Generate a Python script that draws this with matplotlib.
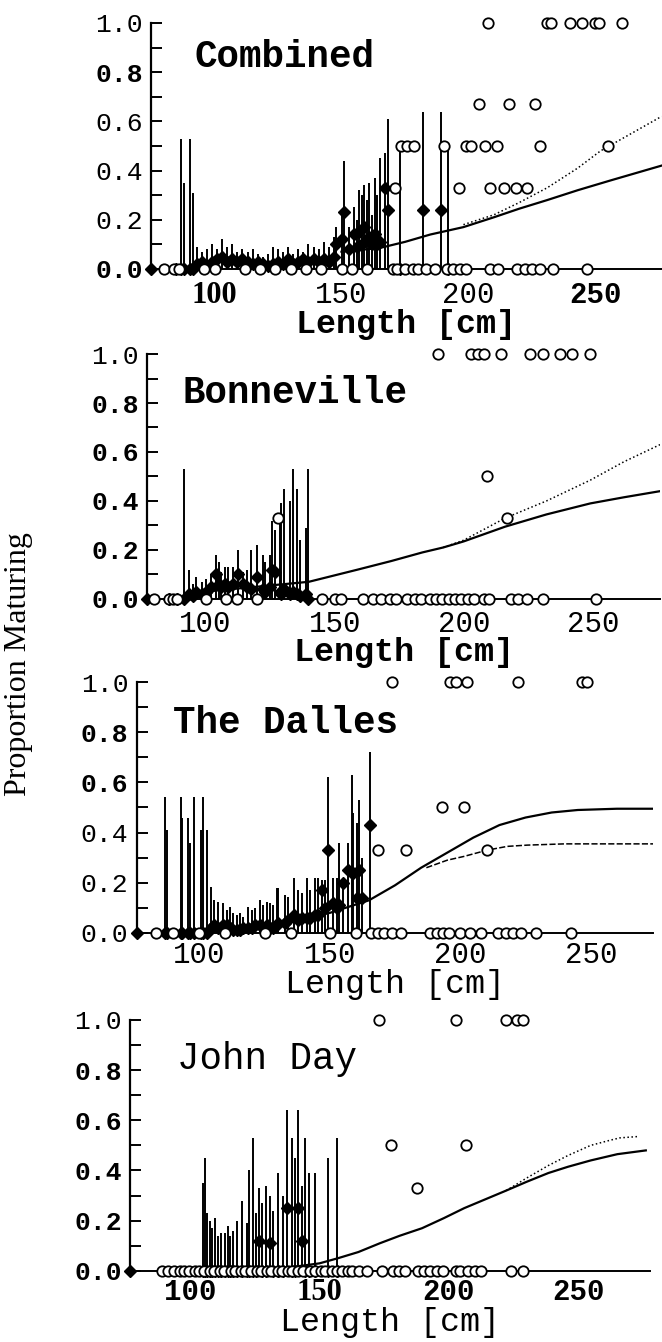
import matplotlib
matplotlib.use("Agg")
import matplotlib.pyplot as plt

# ---------------- Combined ----------------
comb_bar_x = [75, 85, 87, 88, 90.5, 91.5, 93, 95, 97, 99, 101, 103, 105, 107, 109, 111, 113, 115,
              117, 119, 121, 123, 125, 127, 129, 131, 133, 135, 137, 139, 141, 143, 145, 147, 148,
              150, 151, 153, 155, 156, 157, 158, 159, 160, 161, 162, 163, 164, 165, 167, 168.5,
              173, 182, 189, 192]
comb_bar_est = [0, 0, 0, 0, 0, 0, .02, .03, .01, .03, .04, .05, .03, .04, .03, .04, .03, .02,
                .03, .02, .01, .02, .03, .02, .04, .02, .03, .04, .03, .04, .03, .04, .03, .05, .10,
                .12, .23, .08, .14, .09, .15, .10, .17, .12, .13, .10, .14, .10, .11, .33, .24,
                0, .24, .24, 0]
comb_bar_hi = [0, 0, .53, .35, .53, .31, .09, .07, .08, .10, .08, .12, .09, .10, .07, .08, .07, .08,
               .06, .05, .06, .09, .08, .07, .09, .06, .08, .07, .10, .09, .08, .11, .09, .13, .17,
               .22, .44, .17, .25, .20, .32, .30, .34, .28, .35, .22, .37, .30, .45, .47, .61,
               .50, .64, .64, .49]
comb_circ_x = [80, 84, 86, 96, 100, 112, 118, 124, 130, 136, 142, 150, 154, 160, 170.1, 172, 175,
               178, 180, 183.4, 186.7, 191.7, 194, 196.7, 199.2, 208.3, 211.6, 219, 222.4, 224.9,
               228.2, 233.2, 246.5,
               207.8, 231, 232.5, 240, 244.5, 249.8, 251.5, 260.6,
               204.1, 216.1, 226.2,
               173.4, 175.9, 178.4, 190.4, 199.2, 200.8, 206.3, 211.3, 228.2, 254.8,
               170.9, 196.3, 208.3, 213.8, 218.6, 223.2]
comb_circ_p = [0] * 33 + [1.0] * 8 + [0.67] * 3 + [0.5] * 10 + [0.33] * 6
comb_fit_x = [150, 165, 175, 185, 198, 210, 220, 231, 243, 256, 266, 276]
comb_fit_y = [0.07, 0.085, 0.11, 0.14, 0.17, 0.21, 0.245, 0.28, 0.32, 0.36, 0.39, 0.42]
comb_alt_x = [198, 210, 220, 231, 243, 252, 264, 276]
comb_alt_y = [0.18, 0.22, 0.27, 0.33, 0.41, 0.48, 0.55, 0.62]

# ---------------- Bonneville ----------------
bonn_bar_x = [77.5, 86, 89, 91.8, 93.4, 95, 96.3, 98.5, 100, 102, 104, 105.2, 106, 107.5, 108.7,
              110.5, 112.5, 114.4, 116, 117.6, 119.8, 122.1, 123, 124.9, 125.6, 126.9, 128.8,
              129.4, 130.3, 132.6, 133.9, 135.5, 136.5, 138.7, 139.5]
bonn_bar_est = [0, 0, 0, 0, .02, .01, .03, .02, .03, .05, .10, .06, .05, .06, .05, .06, .10,
                .06, .05, .04, .09, .04, .03, .05, .12, .11, .03, .02, .04, .02, .03, .02, .01,
                .02, 0]
bonn_bar_hi = [0, 0, 0, .53, .12, .06, .09, .07, .08, .10, .18, .15, .11, .13, .13, .13, .20,
               .11, .12, .20, .22, .18, .15, .18, .32, .28, .32, .39, .45, .40, .53, .45, .24,
               .29, .53]
bonn_circ_x = [80, 85.8, 87.5, 89, 100, 108, 112, 120, 145, 150, 152.6, 160.8, 164.8, 168, 171.4,
               173.8, 177.9, 181, 183.6, 186.8, 189.3, 191.7, 194.2, 196.6, 199, 201.5, 203.9,
               208, 209.6, 218.1, 221, 224.3, 230.8, 251.2,
               190.1, 202.8, 205.6, 207.7, 214.5, 225.6, 230.8, 237.3, 241.9, 248.7,
               209.1,
               128.2, 216.6]
bonn_circ_p = [0] * 34 + [1.0] * 10 + [0.5] + [0.33] * 2
bonn_fit_x = [100, 115, 130, 140, 159, 172, 184, 192, 200, 216, 232, 249, 262, 276]
bonn_fit_y = [0.03, 0.045, 0.06, 0.07, 0.12, 0.155, 0.19, 0.21, 0.235, 0.295, 0.345, 0.39,
              0.415, 0.44]
bonn_alt_x = [192, 200, 216, 232, 249, 262, 276]
bonn_alt_y = [0.21, 0.24, 0.33, 0.40, 0.485, 0.56, 0.63]

# ---------------- The Dalles ----------------
dall_bar_x = [76, 86.9, 87.5, 92.9, 93.5, 95.8, 96.5, 98, 100.5, 101.6, 103.1, 104.5, 105.7, 107,
              109.2, 110.5, 111.8, 113.1, 114.3, 115.6, 116.9, 118.8, 120.1, 121.4, 123.3, 124.6,
              125.8, 127.1, 128.4, 129.7, 130.3, 132.9, 134.1, 136.1, 138, 139.2, 141.2, 142.4,
              144.4, 145.6, 146.9, 148.2, 149.5, 151.4, 152.7, 153.7, 155.2, 157.1, 158.4, 159,
              160.3, 161, 162.2, 165.4]
dall_bar_est = [0, 0, 0, 0, 0, 0, 0, 0, 0, 0, 0, .02, .03, .02, .03, .03, .02, .01, .01, .01, .02,
                .02, .02, .03, .03, .02, .03, .02, .02, .03, .04, .04, .05, .07, .05, .06, .06,
                .06, .07, .07, .17, .10, .33, .12, .10, .11, .20, .25, .24, .24, .14, .25, .14,
                .43]
dall_bar_hi = [0, .54, .41, .54, .46, .46, .36, .54, .41, .54, .41, .185, .13, .125, .12, .09,
               .105, .08, .07, .08, .065, .105, .09, .10, .13, .11, .125, .12, .11, .18, .18, .15,
               .145, .22, .17, .16, .22, .17, .22, .22, .21, .21, .62, .22, .22, .36, .22, .36,
               .63, .48, .44, .53, .30, .72]
dall_circ_x = [83.5, 90, 100, 110, 125, 135, 150, 160, 165.9, 168.3, 170.7, 174, 177.2, 188.5,
               190.9, 193.3, 195.8, 199.8, 203.8, 207.9, 214.3, 217.6, 220, 223.2, 228.9, 242.6,
               174, 196.2, 198.2, 202.7, 222.1, 246.6, 248.6,
               193, 201.4,
               168.3, 179.1, 210.3]
dall_circ_p = [0] * 26 + [1.0] * 7 + [0.5] * 2 + [0.33] * 3
dall_fit_x = [136, 150, 165, 175, 185, 195, 205, 215, 225, 235, 245, 260, 274]
dall_fit_y = [0.05, 0.08, 0.13, 0.19, 0.26, 0.32, 0.38, 0.43, 0.46, 0.48, 0.49, 0.495, 0.495]
dall_alt_x = [187, 195, 201.4, 210.3, 218, 225.6, 240, 260, 274]
dall_alt_y = [0.26, 0.29, 0.305, 0.33, 0.345, 0.35, 0.355, 0.355, 0.355]

# ---------------- John Day ----------------
john_bar_x = [77, 104.9, 105.8, 106.4, 107.7, 108.4, 109.7, 111, 111.9, 113.5, 114.8, 115.5, 116.7,
              118, 120, 122.1, 122.9, 124.2, 125.5, 126.8, 127.7, 129.4, 130.9, 132.2, 134.1,
              135.8, 137.3, 139.3, 140.6, 141.8, 143.1, 144.4, 146.1, 148.3, 153.4, 156.9]
john_bar_est = [0, 0, 0, 0, 0, 0, 0, 0, 0, 0, 0, 0, 0, 0, 0, 0, 0, 0, 0, .12, 0, 0, .11, 0, 0,
                0, .25, 0, 0, .25, .12, 0, 0, 0, 0, 0]
john_bar_hi = [0, .35, .45, .23, .20, .17, .21, .14, .15, .15, .18, .14, .16, .20, .28, .19, .40,
               .53, .23, .33, .27, .34, .30, .24, .39, .30, .64, .53, .45, .64, .34, .53, .39,
               .39, .45, .53]
john_circ_x = [89.1, 91.5, 93.8, 96, 97.7, 99.6, 101.9, 103.4, 105.5, 107.8, 109.3, 111.6, 113.2,
               115.7, 117.4, 119.8, 121.3, 123.6, 125.9, 127.5, 129.8, 131.4, 133.9, 135.6,
               137.7, 139.5, 141.9, 143.6, 146.2, 148.1, 150.5, 152.2, 154.8, 156.6, 158.7,
               160.9, 162.4,
               165.1, 168.4, 174.1, 178.2, 180.6, 183, 188, 190.4, 192.8, 195.3, 197.7, 202.6,
               204.2, 207.5, 209.9, 212.4, 223.8, 228.7,
               173, 202.6, 222.1, 226.2, 228.7,
               177.8, 206.7,
               187.5]
john_circ_p = [0] * 55 + [1.0] * 5 + [0.5] * 2 + [0.33]
john_fit_x = [140, 150, 157, 165, 173.3, 181, 189.6, 198, 205.9, 214, 222.1, 230, 238.4, 246,
              254.7, 265, 276]
john_fit_y = [0.016, 0.03, 0.05, 0.075, 0.11, 0.14, 0.17, 0.21, 0.25, 0.285, 0.32, 0.355, 0.39,
              0.415, 0.44, 0.465, 0.48]
john_alt_x = [222.1, 230, 238.4, 246, 254.7, 262, 266, 272.6]
john_alt_y = [0.32, 0.37, 0.42, 0.46, 0.50, 0.52, 0.53, 0.535]

y_ticks = [0.0, 0.2, 0.4, 0.6, 0.8, 1.0]
y_tick_labels = ["0.0", "0.2", "0.4", "0.6", "0.8", "1.0"]
x_ticks = [100, 150, 200, 250]
x_tick_labels = ["100", "150", "200", "250"]

MONO = "Liberation Mono"
SERIF = "Liberation Serif"

fig = plt.figure(figsize=(6.62, 13.42), dpi=100)


def draw_panel(rect, xlim, bx, best, bhi, cx, cp, fx, fy, ax_, ay_, alt_ls,
               title, title_bold, ybold, xstyle, xlabel_bold, xlabel_y, xpad):
    ax = fig.add_axes(rect)
    ax.set_xlim(*xlim)
    ax.set_ylim(0, 1.0)
    for s in ["top", "right", "bottom"]:
        ax.spines[s].set_visible(False)
    ax.spines["left"].set_linewidth(1.6)

    ax.axhline(0, color="black", lw=1.4, clip_on=False, zorder=2)
    ax.vlines(bx, 0, bhi, color="black", lw=1.4, zorder=3)
    ax.plot(bx, best, "D", color="black", ms=6.5, clip_on=False, zorder=4)
    ax.plot(fx, fy, "-", color="black", lw=1.6, zorder=3)
    ax.plot(ax_, ay_, linestyle=alt_ls, color="black", lw=1.1, zorder=3)
    ax.plot(cx, cp, "o", mfc="white", mec="black", mew=1.3, ms=7.5,
            clip_on=False, zorder=5)

    ax.set_yticks(y_ticks)
    ax.set_yticklabels(y_tick_labels)
    ax.set_yticks([0.1, 0.3, 0.5, 0.7, 0.9], minor=True)
    ax.tick_params(axis="y", which="both", direction="in", length=8, width=1.4, pad=6)
    for lab, b in zip(ax.get_yticklabels(), ybold):
        lab.set_fontfamily(MONO)
        lab.set_fontsize(19)
        lab.set_fontweight("bold" if b else "normal")

    ax.set_xticks(x_ticks)
    ax.set_xticklabels(x_tick_labels)
    ax.tick_params(axis="x", length=0, pad=xpad)
    for lab, st in zip(ax.get_xticklabels(), xstyle):
        if st == "serif":
            lab.set_fontfamily(SERIF)
            lab.set_fontweight("bold")
            lab.set_fontsize(22)
        else:
            lab.set_fontfamily(MONO)
            lab.set_fontweight(st)
            lab.set_fontsize(21)

    ax.set_xlabel("Length [cm]", fontfamily=MONO, fontsize=24,
                  fontweight="bold" if xlabel_bold else "normal")
    ax.xaxis.set_label_coords(0.5, xlabel_y)
    ax.xaxis.label.set_verticalalignment("center")
    ax.text(title[1], title[2], title[0], fontfamily=MONO, fontsize=27,
            fontweight="bold" if title_bold else "normal", ha="left", va="center")
    return ax


draw_panel([0.2281, 0.7996, 0.7712, 0.1833], (75, 276),
           comb_bar_x, comb_bar_est, comb_bar_hi, comb_circ_x, comb_circ_p,
           comb_fit_x, comb_fit_y, comb_alt_x, comb_alt_y, ":",
           ("Combined", 92, 0.86), True,
           [True, False, False, False, True, False],
           ["serif", "normal", "normal", "bold"], True, -0.225, 9)

draw_panel([0.2228, 0.5537, 0.7742, 0.1825], (77.5, 276),
           bonn_bar_x, bonn_bar_est, bonn_bar_hi, bonn_circ_x, bonn_circ_p,
           bonn_fit_x, bonn_fit_y, bonn_alt_x, bonn_alt_y, ":",
           ("Bonneville", 91, 0.84), True,
           [True, True, True, True, True, False],
           ["normal", "normal", "normal", "normal"], True, -0.218, 8)

draw_panel([0.2064, 0.3048, 0.7807, 0.1870], (76, 274),
           dall_bar_x, dall_bar_est, dall_bar_hi, dall_circ_x, dall_circ_p,
           dall_fit_x, dall_fit_y, dall_alt_x, dall_alt_y, (0, (4, 1.5)),
           ("The Dalles", 90, 0.837), True,
           [False, False, False, True, True, False],
           ["normal", "normal", "normal", "normal"], False, -0.205, 6)

draw_panel([0.1970, 0.0530, 0.7844, 0.1870], (77, 277.5),
           john_bar_x, john_bar_est, john_bar_hi, john_circ_x, john_circ_p,
           john_fit_x, john_fit_y, john_alt_x, john_alt_y, ":",
           ("John Day", 95, 0.846), False,
           [True, True, True, True, True, False],
           ["bold", "serif", "bold", "bold"], False, -0.205, 5)

fig.text(0.028, 0.505, "Proportion Maturing", rotation=90, fontfamily=SERIF,
         fontsize=23, ha="center", va="center")

fig.savefig("out.png", dpi=100)
